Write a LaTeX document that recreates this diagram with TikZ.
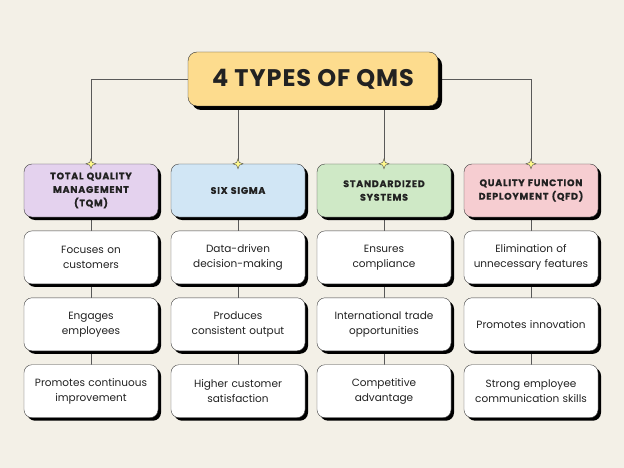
\documentclass[tikz,border=0pt]{standalone}
\usepackage{fontspec}
\setmainfont{Poppins}
\usetikzlibrary{positioning, shapes.geometric, shadows, backgrounds}
\definecolor{paper}{HTML}{F3F0E7}
\definecolor{qmsyellow}{HTML}{FDDC8E}
\definecolor{qmspurple}{HTML}{E4D2EE}
\definecolor{qmsblue}{HTML}{D1E6F5}
\definecolor{qmsgreen}{HTML}{CFE9C6}
\definecolor{qmspink}{HTML}{F6CDD1}
\definecolor{ink}{HTML}{222222}
\tikzset{
  titlebox/.style = {draw=black!80, rounded corners=9pt, fill=qmsyellow,
                     minimum width=250pt, minimum height=54pt, text=ink,
                     font=\fontsize{24}{28}\selectfont\bfseries\addfontfeatures{LetterSpace=4},
                     drop shadow={shadow xshift=4pt, shadow yshift=-4pt, fill=black, opacity=1}},
  headbox/.style  = {draw=black!75, rounded corners=8pt, align=center, text=ink,
                     minimum width=134pt, minimum height=53pt, text width=130pt,
                     inner sep=0pt,
                     font=\fontsize{9.5}{13.5}\selectfont\bfseries\addfontfeatures{LetterSpace=8,FakeBold=0.7},
                     drop shadow={shadow xshift=3pt, shadow yshift=-3pt, fill=black, opacity=1}},
  itembox/.style  = {draw=black!75, rounded corners=8pt, align=center, fill=white,
                     minimum width=134pt, minimum height=53pt, text width=132pt,
                     inner sep=0pt, text=ink,
                     font=\fontsize{10.5}{15}\selectfont,
                     drop shadow={shadow xshift=3pt, shadow yshift=-3pt, fill=black, opacity=1}},
  link/.style     = {draw=black!65, line width=0.7pt},
  sparkle/.style  = {star, star points=4, star point ratio=2.6, fill=yellow!45,
                     draw=black!70, line width=0.4pt, minimum size=10pt, inner sep=0pt},
}
\newcommand{\qmscolumn}[7]{%
  \node[headbox, fill=#3] (#1h) at (#2,190.5) {#4};
  \node[itembox, below=13.5pt of #1h] (#1a) {#5};
  \node[itembox, below=13.5pt of #1a] (#1b) {#6};
  \node[itembox, below=13.5pt of #1b] (#1c) {#7};
  \begin{scope}[on background layer]
    \draw[link] (#1h) -- (#1a);
    \draw[link] (#1a) -- (#1b);
    \draw[link] (#1b) -- (#1c);
  \end{scope}
}

\begin{document}
\begin{tikzpicture}[x=1pt, y=-1pt]
\useasboundingbox (0,0) rectangle (624,468);
\begin{scope}[on background layer]
  \fill[paper] (0,0) rectangle (624,468);
\end{scope}

% title
\node[titlebox] (title) at (313,79) {4 TYPES OF QMS};

% four columns
\qmscolumn{tqm}{91}{qmspurple}{TOTAL QUALITY\\MANAGEMENT\\(TQM)}
  {Focuses on\\customers}{Engages\\employees}{Promotes continuous\\improvement}
\qmscolumn{six}{238}{qmsblue}{SIX SIGMA}
  {Data-driven\\decision-making}{Produces\\consistent output}{Higher customer\\satisfaction}
\qmscolumn{std}{384}{qmsgreen}{STANDARDIZED\\SYSTEMS}
  {Ensures\\compliance}{International trade\\opportunities}{Competitive\\advantage}
\qmscolumn{qfd}{531}{qmspink}{QUALITY FUNCTION\\DEPLOYMENT (QFD)}
  {Elimination of\\unnecessary features}{Promotes innovation}{Strong employee\\communication skills}

% title to columns
\begin{scope}[on background layer]
  \draw[link] (title.west) -| (tqmh.north);
  \draw[link] (title.south -| sixh.north) -- (sixh.north);
  \draw[link] (title.south -| stdh.north) -- (stdh.north);
  \draw[link] (title.east) -| (qfdh.north);
\end{scope}
\node[sparkle] (tqms) at (tqmh.north) {};
\node[sparkle] (sixs) at (sixh.north) {};
\node[sparkle] (stds) at (stdh.north) {};
\node[sparkle] (qfds) at (qfdh.north) {};

\end{tikzpicture}
\end{document}
